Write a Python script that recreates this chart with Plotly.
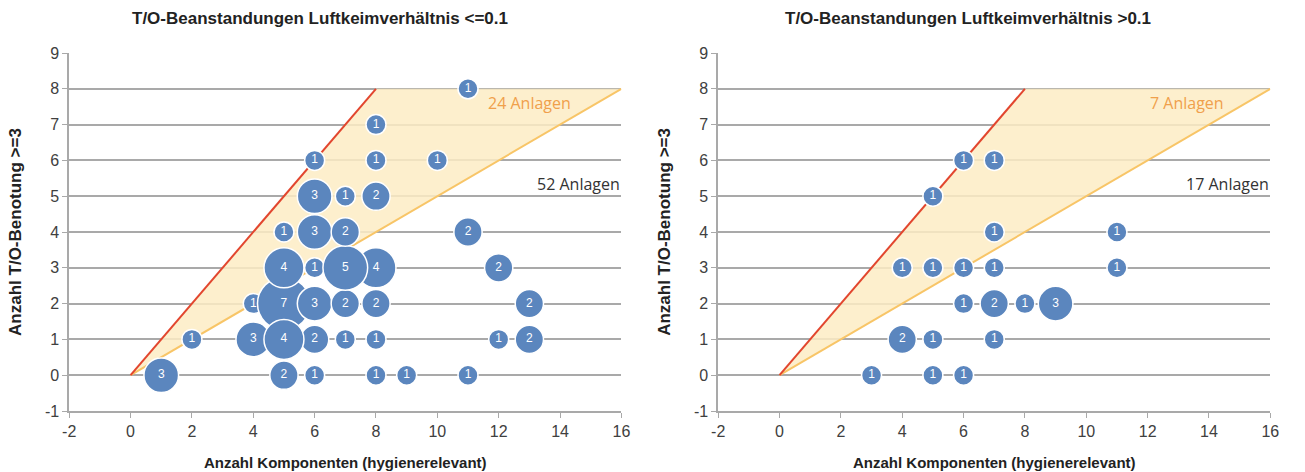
import plotly.graph_objects as go

# ---- data ----
# left chart: Luftkeimverhältnis <= 0.1  (x = components, y = T/O count, n = number of plants)
left_x = [4, 5, 6, 7, 8, 13, 5, 6, 8, 7, 12, 4, 6, 5, 7, 8, 12, 13, 2, 11, 8, 6, 8, 10, 6, 7, 8, 5, 6, 7, 11, 1, 5, 6, 8, 9, 11]
left_y = [2, 2, 2, 2, 2, 2, 3, 3, 3, 3, 3, 1, 1, 1, 1, 1, 1, 1, 1, 8, 7, 6, 6, 6, 5, 5, 5, 4, 4, 4, 4, 0, 0, 0, 0, 0, 0]
left_n = [1, 7, 3, 2, 2, 2, 4, 1, 4, 5, 2, 3, 2, 4, 1, 1, 1, 2, 1, 1, 1, 1, 1, 1, 3, 1, 2, 1, 3, 2, 2, 3, 2, 1, 1, 1, 1]

# right chart: Luftkeimverhältnis > 0.1
right_x = [6, 7, 5, 7, 11, 4, 5, 6, 7, 11, 6, 7, 8, 9, 4, 5, 7, 3, 5, 6]
right_y = [6, 6, 5, 4, 4, 3, 3, 3, 3, 3, 2, 2, 2, 2, 1, 1, 1, 0, 0, 0]
right_n = [1, 1, 1, 1, 1, 1, 1, 1, 1, 1, 1, 2, 1, 3, 2, 1, 1, 1, 1, 1]

# boundary lines
red_x = [0, 8]
red_y = [0, 8]
yellow_x = [0, 16]
yellow_y = [0, 8]
band_x = [0, 8, 16, 0]
band_y = [0, 8, 8, 0]

titles = ["T/O-Beanstandungen Luftkeimverhältnis <=0.1", "T/O-Beanstandungen Luftkeimverhältnis >0.1"]
inside_labels = ["24 Anlagen", "7 Anlagen"]
outside_labels = ["52 Anlagen", "17 Anlagen"]
x_title = "Anzahl Komponenten (hygienerelevant)"
y_title = "Anzahl T/O-Benotung >=3"

x_ticks = [-2, 0, 2, 4, 6, 8, 10, 12, 14, 16]
x_ticktext = ["-2", "0", "2", "4", "6", "8", "10", "12", "14", "16"]
y_ticks = [-1, 0, 1, 2, 3, 4, 5, 6, 7, 8, 9]
y_ticktext = ["-1", "0", "1", "2", "3", "4", "5", "6", "7", "8", "9"]

BUBBLE = "#5b86be"
FILL = "rgba(253,236,196,0.85)"
YELLOW = "#f8c567"
RED = "#e2462e"
GRID = "#a9a9a9"
TICKC = "#404040"

fig = go.Figure()

panels = [("x", "y", left_x, left_y, left_n), ("x2", "y2", right_x, right_y, right_n)]
for xa, ya, xs, ys, ns in panels:
    fig.add_trace(go.Scatter(x=band_x, y=band_y, xaxis=xa, yaxis=ya, mode="lines",
                             fill="toself", fillcolor=FILL, line=dict(width=0),
                             hoverinfo="skip", showlegend=False))
    fig.add_trace(go.Scatter(x=yellow_x, y=yellow_y, xaxis=xa, yaxis=ya, mode="lines",
                             line=dict(color=YELLOW, width=2), hoverinfo="skip", showlegend=False))
    fig.add_trace(go.Scatter(x=red_x, y=red_y, xaxis=xa, yaxis=ya, mode="lines",
                             line=dict(color=RED, width=2), hoverinfo="skip", showlegend=False))
    fig.add_trace(go.Scatter(x=xs, y=ys, xaxis=xa, yaxis=ya, mode="markers+text",
                             text=[str(n) for n in ns], textposition="middle center",
                             textfont=dict(color="white", size=12, family="Liberation Sans"),
                             marker=dict(size=ns, sizemode="area", sizeref=1 / 200.0,
                                         color=BUBBLE, opacity=1,
                                         line=dict(color="white", width=1.5)),
                             cliponaxis=False, showlegend=False))

axis_common = dict(range=[-2, 16], tickvals=x_ticks, ticktext=x_ticktext, showgrid=False, zeroline=False,
                   showline=True, linecolor=GRID, linewidth=1.5, ticks="outside",
                   ticklen=5, tickcolor=GRID, tickfont=dict(size=16, color=TICKC, family="Liberation Sans"))
yaxis_common = dict(range=[-1, 9], tickvals=y_ticks, ticktext=y_ticktext, showgrid=True, gridcolor=GRID, gridwidth=2,
                    zeroline=False, showline=True, linecolor=GRID, linewidth=1.5, ticks="outside",
                    ticklen=5, tickcolor=GRID, tickfont=dict(size=16, color=TICKC, family="Liberation Sans"))

d1 = [63 / 1305, 622 / 1305]
d2 = [720 / 1305, 1279 / 1305]

fig.update_layout(
    width=1305, height=472,
    margin=dict(l=0, r=0, t=53, b=61),
    paper_bgcolor="white", plot_bgcolor="white",
    xaxis=dict(domain=d1, anchor="y", **axis_common),
    yaxis=dict(domain=[0, 1], anchor="x", **yaxis_common),
    xaxis2=dict(domain=d2, anchor="y2", **axis_common),
    yaxis2=dict(domain=[0, 1], anchor="x2", **yaxis_common),
    showlegend=False,
)

annos = []
for i, d in enumerate([d1, d2]):
    cx = (d[0] + d[1]) / 2
    annos.append(dict(text="<b>" + titles[i] + "</b>", xref="paper", yref="paper",
                      x=cx - 0.02, y=(411 - 18) / 358, xanchor="center", yanchor="middle",
                      showarrow=False, font=dict(size=17, color="#222", family="Liberation Sans")))
    annos.append(dict(text="<b>" + x_title + "</b>", xref="paper", yref="paper",
                      x=cx, y=(411 - 462) / 358, xanchor="center", yanchor="middle",
                      showarrow=False, font=dict(size=15, color="#222", family="Liberation Sans")))
    annos.append(dict(text="<b>" + y_title + "</b>", xref="paper", yref="paper",
                      x=d[0] - 55 / 1305, y=0.5, xanchor="center", yanchor="middle", textangle=-90,
                      showarrow=False, font=dict(size=17, color="#222", family="Liberation Sans")))
xr = ["x", "x2"]
yr = ["y", "y2"]
in_pos = [(13.0, 7.6), (13.3, 7.6)]
out_pos = [(14.6, 5.35), (14.6, 5.35)]
for i in range(2):
    annos.append(dict(text=inside_labels[i], xref=xr[i], yref=yr[i], x=in_pos[i][0], y=in_pos[i][1],
                      showarrow=False, font=dict(size=16, color="#f0a04b", family="Open Sans")))
    annos.append(dict(text=outside_labels[i], xref=xr[i], yref=yr[i], x=out_pos[i][0], y=out_pos[i][1],
                      showarrow=False, font=dict(size=16, color="#333", family="Open Sans")))
fig.update_layout(annotations=annos)

fig.write_html("out.html", config={"displayModeBar": False},
               post_script="document.body.style.margin='0';")
